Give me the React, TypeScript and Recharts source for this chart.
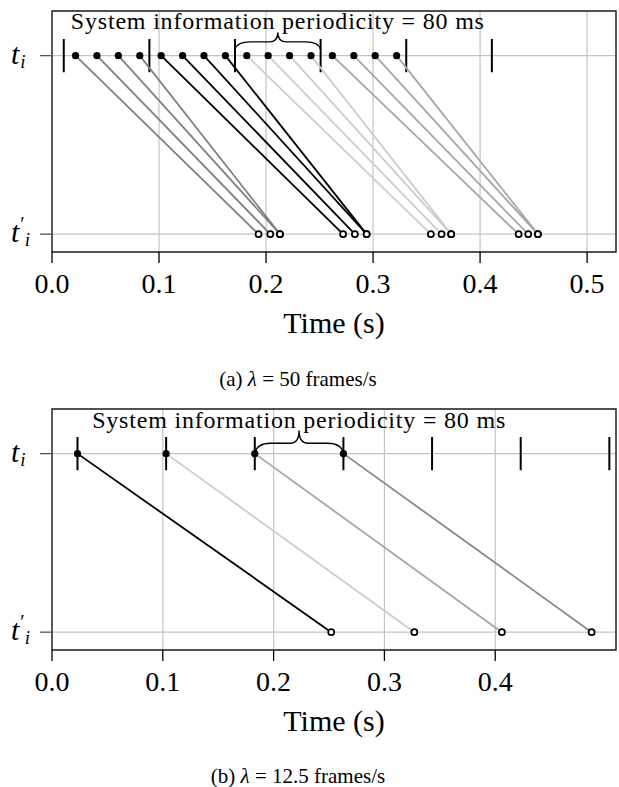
import React from 'react';
import { ScatterChart, Scatter, XAxis, YAxis, CartesianGrid, ReferenceLine, ReferenceArea, ReferenceDot } from 'recharts';

// (a) lambda = 50 frames/s
const siTicksA = [0.011, 0.091, 0.171, 0.251, 0.331, 0.411];
const sendA = [0.022, 0.042, 0.062, 0.082, 0.102, 0.122, 0.142, 0.162, 0.182, 0.202, 0.222, 0.242, 0.262, 0.282, 0.302, 0.322];
const recvA = [0.193, 0.204, 0.213, 0.213, 0.272, 0.283, 0.294, 0.294, 0.354, 0.364, 0.373, 0.373, 0.436, 0.445, 0.454, 0.454];
const groupColorsA = ['#808080', '#000000', '#cdcdcd', '#a6a6a6'];
const xTicksA = [0, 0.1, 0.2, 0.3, 0.4, 0.5];

// (b) lambda = 12.5 frames/s
const siTicksB = [0.023, 0.103, 0.183, 0.263, 0.343, 0.423, 0.503];
const sendB = [0.023, 0.103, 0.183, 0.263];
const recvB = [0.252, 0.327, 0.406, 0.487];
const groupColorsB = ['#000000', '#cdcdcd', '#a6a6a6', '#888888'];
const xTicksB = [0, 0.1, 0.2, 0.3, 0.4];

const yTicks = [0, 1];
const Y_MIN = -0.1;
const Y_MAX = 1.25;
const FONT = '"Liberation Serif", "Times New Roman", serif';

const Empty = () => <g />;

const FilledDot = (p: any) => <circle cx={p.cx} cy={p.cy} r={3.6} fill="#000" />;
const OpenDot = (p: any) => <circle cx={p.cx} cy={p.cy} r={3} fill="#fff" stroke="#000" strokeWidth={1.7} />;

// t_i on the send line, t'_i on the receive line
const YTick = (props: any) => {
  const { x, y, payload } = props;
  const prime = payload.value === 0;
  return (
    <text x={x - 29} y={y + 8} fontFamily={FONT} fill="#000" fontStyle="italic" fontSize={30}>
      t
      {prime ? (
        <>
          <tspan fontSize={20} fontStyle="normal" dx={1} dy={-11}>′</tspan>
          <tspan fontSize={19} dx={0} dy={15}>i</tspan>
        </>
      ) : (
        <tspan fontSize={19} dx={1} dy={4}>i</tspan>
      )}
    </text>
  );
};

const Brace = (p: any) => {
  const { x, y, width: w, height: h } = p;
  const yb = y + h;
  const ym = y + h * 0.55;
  const cx = x + w / 2;
  const d = `M ${x} ${yb} Q ${x + w * 0.02} ${ym} ${x + w * 0.18} ${ym} L ${cx - w * 0.1} ${ym} Q ${cx} ${ym} ${cx} ${y} Q ${cx} ${ym} ${cx + w * 0.1} ${ym} L ${x + w - w * 0.18} ${ym} Q ${x + w - w * 0.02} ${ym} ${x + w} ${yb}`;
  return <path d={d} fill="none" stroke="#000" strokeWidth={1.4} />;
};

const Annotation = (p: any) => (
  <text x={p.cx} y={p.cy} textAnchor="middle" fontFamily={FONT} fontSize={24} letterSpacing={0.8} fill="#000">
    System information periodicity = 80 ms
  </text>
);

interface PanelProps {
  xMax: number;
  xTicks: number[];
  si: number[];
  send: number[];
  recv: number[];
  colors: string[];
  perGroup: number;
  braceLow: number;
  textY: number;
}

function Panel({ xMax, xTicks, si, send, recv, colors, perGroup, braceLow, textY }: PanelProps) {
  const links = send.map((s, i) => ({
    data: [{ x: s, y: 1 }, { x: recv[i], y: 0 }],
    color: colors[Math.floor(i / perGroup)],
  }));
  const sendPts = send.map((x) => ({ x, y: 1 }));
  const recvPts = recv.map((x) => ({ x, y: 0 }));
  const braceFrom = si[2];
  const braceTo = si[3];

  return (
    <ScatterChart width={619} height={360} margin={{ top: 11, right: 3, left: 0, bottom: 18 }}>
      <CartesianGrid stroke="#c4c4c4" strokeWidth={1.2} />
      <XAxis
        type="number"
        dataKey="x"
        domain={[0, xMax]}
        ticks={xTicks}
        allowDataOverflow
        tickFormatter={(v: number) => v.toFixed(1)}
        tick={{ fontSize: 28, fontFamily: FONT, fill: '#000' }}
        tickSize={11}
        tickMargin={10}
        tickLine={{ stroke: '#000', strokeWidth: 1.3 }}
        axisLine={false}
        height={90}
        label={{ value: 'Time (s)', position: 'insideBottom', offset: 9, fontSize: 30, fontFamily: FONT, fill: '#000' }}
      />
      <YAxis
        type="number"
        dataKey="y"
        domain={[Y_MIN, Y_MAX]}
        ticks={yTicks}
        allowDataOverflow
        width={52}
        tickSize={12}
        tickMargin={0}
        tickLine={{ stroke: '#555', strokeWidth: 1.3 }}
        axisLine={false}
        tick={<YTick />}
      />
      <ReferenceArea x1={0} x2={xMax} y1={Y_MIN} y2={Y_MAX} fill="none" stroke="#222" strokeWidth={1.4} ifOverflow="visible" />
      {links.map((l, i) => (
        <Scatter
          key={`link-${i}`}
          data={l.data}
          fill={l.color}
          line={{ stroke: l.color, strokeWidth: 1.8 }}
          shape={<Empty />}
          isAnimationActive={false}
        />
      ))}
      {si.map((x) => (
        <ReferenceLine
          key={`si-${x}`}
          segment={[{ x, y: 0.907 }, { x, y: 1.093 }]}
          stroke="#000"
          strokeWidth={2}
        />
      ))}
      <ReferenceArea x1={braceFrom} x2={braceTo} y1={braceLow} y2={1.13} shape={<Brace />} ifOverflow="visible" />
      <ReferenceDot x={(braceFrom + braceTo) / 2} y={textY} r={0} shape={<Annotation />} ifOverflow="visible" />
      <Scatter data={sendPts} fill="#000" shape={<FilledDot />} isAnimationActive={false} />
      <Scatter data={recvPts} fill="#fff" shape={<OpenDot />} isAnimationActive={false} />
    </ScatterChart>
  );
}

const captionStyle: React.CSSProperties = {
  position: 'absolute',
  left: 148,
  width: 300,
  textAlign: 'center',
  fontFamily: FONT,
  fontSize: 21,
  color: '#000',
  lineHeight: '24px',
};

export default function App() {
  return (
    <div style={{ position: 'absolute', left: 0, top: 0, width: 619, height: 787, background: '#fff' }}>
      <div style={{ position: 'absolute', left: 0, top: 0 }}>
        <Panel xMax={0.527} xTicks={xTicksA} si={siTicksA} send={sendA} recv={recvA} colors={groupColorsA} perGroup={4} braceLow={1.034} textY={1.151} />
      </div>
      <div style={{ ...captionStyle, top: 367 }}>
        (a) <i>λ</i> = 50 frames/s
      </div>
      <div style={{ position: 'absolute', left: 0, top: 397.7 }}>
        <Panel xMax={0.509} xTicks={xTicksB} si={siTicksB} send={sendB} recv={recvB} colors={groupColorsB} perGroup={1} braceLow={1.0} textY={1.141} />
      </div>
      <div style={{ ...captionStyle, top: 764 }}>
        (b) <i>λ</i> = 12.5 frames/s
      </div>
    </div>
  );
}
